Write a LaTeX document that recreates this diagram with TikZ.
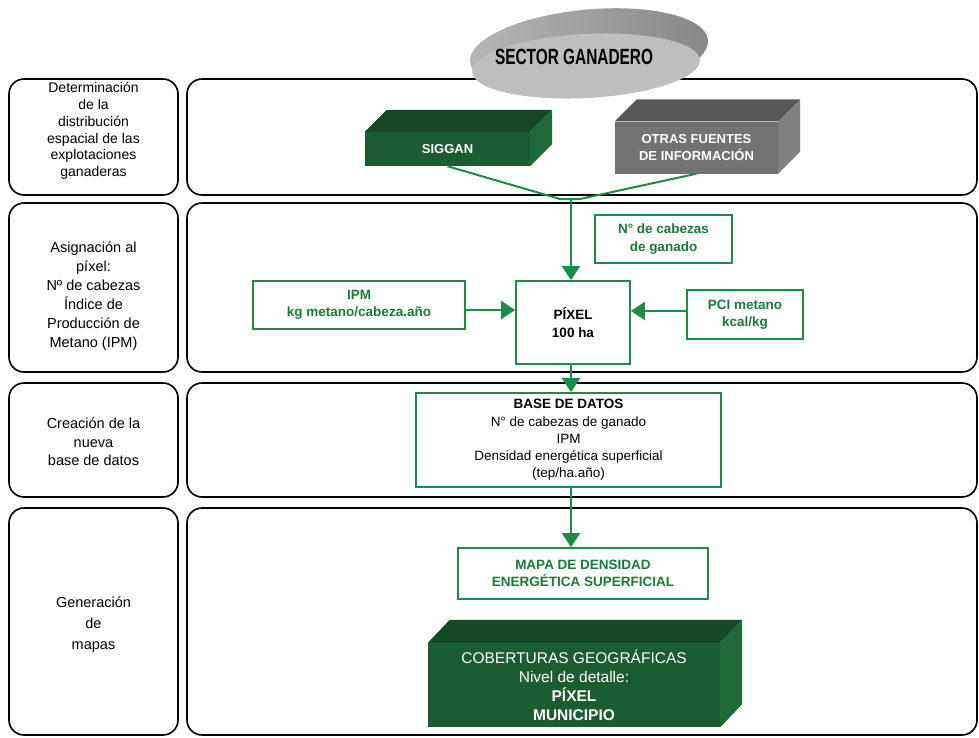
\documentclass[tikz,border=0pt]{standalone}
\usepackage{fontspec}
\usepackage{graphicx}
\setmainfont{Liberation Sans}
\usetikzlibrary{arrows.meta,calc}
\definecolor{gline}{RGB}{30,140,70}
\definecolor{gtext}{RGB}{25,122,58}
\definecolor{dgfront}{RGB}{27,92,50}
\definecolor{dgtop}{RGB}{21,72,39}
\definecolor{dgside}{RGB}{32,106,58}
\definecolor{gyfront}{RGB}{114,114,114}
\definecolor{gytop}{RGB}{86,87,89}
\definecolor{gyside}{RGB}{128,128,128}
\definecolor{discl}{RGB}{182,182,182}
\definecolor{discr}{RGB}{135,135,135}
\definecolor{disclight}{RGB}{190,190,190}
\begin{document}
\begin{tikzpicture}[x=1pt,y=-1pt,
  rowbox/.style={draw=black, line width=1.6pt, rounded corners=15pt, inner sep=0pt},
  lt/.style={align=center, inner sep=0pt},
  gbox/.style={draw=gline, line width=1.8pt, fill=white, align=center, text=gtext,
     font=\fontsize{13.5}{17.5}\selectfont\bfseries, inner sep=0pt},
  front/.style={inner sep=0pt, align=center, text=white},
  gl/.style={draw=gline, line width=2pt},
  arr/.style={draw=gline, line width=2.2pt, -{Triangle[width=18pt,length=14pt]}}
]
\useasboundingbox (0,0) rectangle (979,737);
\fill[white] (0,0) rectangle (979,737);

% row frames
\node[rowbox, minimum width=169pt, minimum height=116pt] (l1) at (93.5,137) {};
\node[rowbox, minimum width=169pt, minimum height=169pt] (l2) at (93.5,287.5) {};
\node[rowbox, minimum width=169pt, minimum height=114pt] (l3) at (93.5,440) {};
\node[rowbox, minimum width=169pt, minimum height=227pt] (l4) at (93.5,621.5) {};
\node[rowbox, minimum width=790pt, minimum height=116pt] (r1) at (582,137) {};
\node[rowbox, minimum width=790pt, minimum height=169pt] (r2) at (582,287.5) {};
\node[rowbox, minimum width=790pt, minimum height=114pt] (r3) at (582,440) {};
\node[rowbox, minimum width=790pt, minimum height=227pt] (r4) at (582,621.5) {};

% left texts
\node[lt, font=\fontsize{14}{16.8}\selectfont] (t1) at (93.5,131)
  {Determinación\\de la\\distribución\\espacial de las\\explotaciones\\ganaderas};
\node[lt, font=\fontsize{14.5}{19}\selectfont] (t2) at (93.5,296)
  {Asignación al\\píxel:\\Nº de cabezas\\Índice de\\Producción de\\Metano (IPM)};
\node[lt, font=\fontsize{14.5}{18.5}\selectfont] (t3) at (93.5,442)
  {Creación de la\\nueva\\base de datos};
\node[lt, font=\fontsize{14.5}{21}\selectfont] (t4) at (93.5,625)
  {Generación\\de\\mapas};

% disc
\shade[left color=discl, right color=discr, rotate around={5.3:(589,51)}]
  (589,51) ellipse [x radius=119.5, y radius=41.5];
\fill[disclight, rotate around={3:(586,66)}] (586,66) ellipse [x radius=114, y radius=32];
\node[inner sep=0pt, font=\fontsize{22}{23}\selectfont\bfseries] (sector) at (574,57)
  {\scalebox{0.7}[1]{SECTOR GANADERO}};

% SIGGAN block
\node[front, fill=dgfront, minimum width=165pt, minimum height=34pt,
      font=\fontsize{13}{16}\selectfont\bfseries] (siggan) at (447.5,149) {SIGGAN};
\fill[dgtop] (siggan.north west) -- ++(22,-22) -- ($(siggan.north east)+(22,-22)$) -- (siggan.north east) -- cycle;
\fill[dgside] (siggan.north east) -- ++(22,-22) -- ($(siggan.south east)+(22,-22)$) -- (siggan.south east) -- cycle;

% OTRAS block
\node[front, fill=gyfront, minimum width=163pt, minimum height=52pt,
      font=\fontsize{13}{16.5}\selectfont\bfseries] (otras) at (696.5,147.5) {OTRAS FUENTES\\DE INFORMACIÓN};
\fill[gytop] (otras.north west) -- ++(22,-22) -- ($(otras.north east)+(22,-22)$) -- (otras.north east) -- cycle;
\fill[gyside] (otras.north east) -- ++(22,-22) -- ($(otras.south east)+(22,-22)$) -- (otras.south east) -- cycle;

% junction
\coordinate (v1) at (560,199);
\coordinate (j) at (571,199);
\coordinate (v2) at (580,199);
\draw[gl] (siggan.south) -- (v1) -- (v2) -- (otras.south);

% row 2 boxes
\node[gbox, minimum width=137pt, minimum height=48pt] (cab) at (663.5,239) {N° de cabezas\\de ganado};
\node[gbox, minimum width=212pt, minimum height=48pt] (ipm) at (359,305) {IPM\\kg metano/cabeza.año};
\node[gbox, minimum width=114pt, minimum height=83pt, text=black] (pixel) at (573,322.5) {PÍXEL\\100 ha};
\node[gbox, minimum width=116pt, minimum height=49pt] (pci) at (745,314.5) {PCI metano\\kcal/kg};

% row 3
\node[gbox, minimum width=305pt, minimum height=94pt, text=black,
      font=\fontsize{13.5}{17.2}\selectfont] (base) at (568.5,440)
  {\textbf{BASE DE DATOS}\\N° de cabezas de ganado\\IPM\\Densidad energética superficial\\(tep/ha.año)};

% row 4
\node[gbox, minimum width=250pt, minimum height=51pt, font=\fontsize{13.5}{16.5}\selectfont\bfseries] (mapa) at (583,573.5)
  {MAPA DE DENSIDAD\\ENERGÉTICA SUPERFICIAL};
\node[front, fill=dgfront, minimum width=292pt, minimum height=84pt,
      font=\fontsize{15.5}{19}\selectfont] (cob) at (574,685)
  {COBERTURAS GEOGRÁFICAS\\Nivel de detalle:\\\textbf{PÍXEL}\\\textbf{MUNICIPIO}};
\fill[dgtop] (cob.north west) -- ++(22,-23) -- ($(cob.north east)+(22,-23)$) -- (cob.north east) -- cycle;
\fill[dgside] (cob.north east) -- ++(22,-23) -- ($(cob.south east)+(22,-23)$) -- (cob.south east) -- cycle;

% arrows
\draw[arr] (j) -- (j |- pixel.north);
\coordinate (ipmout) at ($(ipm.east)+(0,5)$);
\draw[arr] (ipmout) -- (ipmout -| pixel.west);
\coordinate (pciout) at ($(pci.west)+(0,-3.5)$);
\draw[arr] (pciout) -- (pciout -| pixel.east);
\draw[arr] (pixel.south -| j) -- (base.north -| j);
\draw[arr] (base.south -| j) -- (mapa.north -| j);
\end{tikzpicture}
\end{document}
